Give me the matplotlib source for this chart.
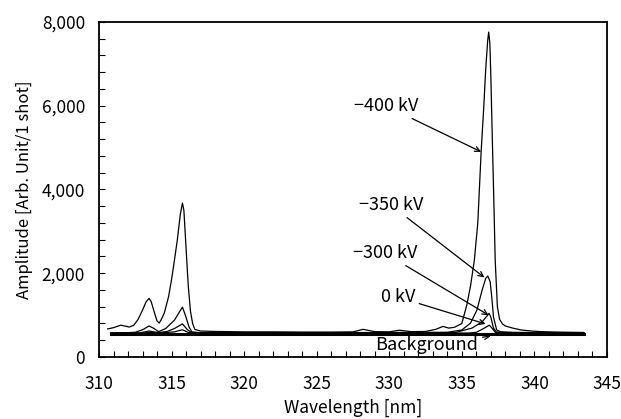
import matplotlib
matplotlib.use('Agg')
import matplotlib.pyplot as plt
import matplotlib.ticker as ticker

plt.rcParams['font.family'] = ['Noto Sans CJK JP', 'DejaVu Sans']

# spectra (wavelength nm, amplitude)
wl_400 = [310.6, 311.0, 311.5, 312.1, 312.4, 312.7, 313.0, 313.25, 313.45, 313.6,
          313.8, 314.0, 314.15, 314.3, 314.5, 314.8, 315.0, 315.2, 315.4, 315.6,
          315.75, 315.85, 316.0, 316.15, 316.3, 316.45, 316.6, 317.0, 318.0, 320.0,
          322.0, 324.0, 326.0, 327.5, 328.2, 329.0, 330.0, 330.7, 331.5, 332.5,
          333.2, 333.7, 334.1, 334.5, 335.0, 335.35, 335.6, 335.86, 336.1, 336.33,
          336.5, 336.65, 336.78, 336.85, 336.93, 337.0, 337.07, 337.2, 337.3, 337.45,
          337.6, 337.8, 338.0, 338.5, 339.1, 339.8, 340.5, 341.5, 342.5, 343.4]
amp_400 = [670, 700, 760, 715, 760, 900, 1120, 1320, 1400, 1320,
           1080, 860, 810, 900, 1050, 1450, 1850, 2315, 2800, 3400,
           3675, 3500, 2600, 1700, 1100, 800, 660, 620, 610, 600,
           600, 595, 595, 600, 660, 605, 600, 640, 605, 610,
           660, 730, 690, 710, 800, 1250, 1700, 2300, 3200, 4900,
           5900, 6900, 7550, 7760, 7500, 6700, 5650, 3800, 2300, 1200,
           900, 790, 740, 690, 645, 620, 605, 595, 590, 585]

wl_350 = [310.8, 312.0, 312.5, 313.0, 313.45, 313.8, 314.1, 314.6, 315.2, 315.5,
          315.75, 315.95, 316.2, 316.4, 317.0, 325.0, 334.0, 335.0, 335.6, 336.04,
          336.4, 336.65, 336.79, 336.95, 337.06, 337.18, 337.4, 337.7, 338.5, 343.4]
amp_350 = [575, 580, 590, 650, 740, 680, 605, 680, 880, 1050,
           1190, 1000, 720, 600, 580, 580, 590, 645, 810, 1120,
           1600, 1880, 1933, 1800, 1440, 960, 645, 600, 585, 580]

wl_300 = [310.8, 312.8, 313.45, 314.1, 314.7, 315.2, 315.75, 316.1, 316.4, 317.0,
          334.5, 335.7, 336.4, 336.88, 337.0, 337.18, 337.4, 338.0, 343.4]
amp_300 = [570, 575, 620, 580, 610, 680, 790, 650, 580, 575,
           580, 690, 840, 1043, 950, 690, 590, 580, 575]

wl_0 = [310.8, 313.0, 313.45, 314.0, 315.2, 315.75, 316.2, 317.0, 335.5, 336.0,
        336.5, 336.9, 337.1, 337.3, 343.4]
amp_0 = [565, 570, 590, 570, 600, 650, 580, 570, 572, 590,
         680, 760, 680, 590, 570]

wl_bg = [310.8, 320.0, 330.0, 343.4]
amp_bg = [558, 558, 558, 558]

# arrow labels: (text, target wavelength, target amplitude, text wavelength, text amplitude)
labels = [
    ('\u2212400 kV', 336.33, 4900, 329.8, 5990),
    ('\u2212350 kV', 336.55, 1900, 330.1, 3630),
    ('\u2212300 kV', 336.84, 1000, 329.7, 2480),
    ('0 kV', 336.63, 790, 330.6, 1430),
    ('Background', 337.0, 500, 332.6, 290),
]

fig = plt.figure(figsize=(6.21, 4.19), dpi=100)
ax = fig.add_axes([0.1594, 0.148, 0.818, 0.7995])

for w, a in [(wl_400, amp_400), (wl_350, amp_350), (wl_300, amp_300), (wl_0, amp_0)]:
    ax.plot(w, a, color='black', lw=0.9)
ax.plot(wl_bg, amp_bg, color='black', lw=2.2)

for text, tx, ty, lx, ly in labels:
    ax.annotate(text, xy=(tx, ty), xytext=(lx, ly), ha='center', va='center',
                fontsize=13,
                arrowprops=dict(arrowstyle='->', color='black', lw=0.9,
                                shrinkA=1, shrinkB=0, mutation_scale=9))

ax.set_xlim(310, 345)
ax.set_ylim(0, 8000)
ax.xaxis.set_major_locator(ticker.MultipleLocator(5))
ax.xaxis.set_minor_locator(ticker.MultipleLocator(1))
ax.yaxis.set_major_locator(ticker.MultipleLocator(2000))
ax.yaxis.set_minor_locator(ticker.MultipleLocator(400))
ax.yaxis.set_major_formatter(ticker.FuncFormatter(lambda v, p: '{:,.0f}'.format(v)))
ax.tick_params(which='both', direction='in', length=4, width=0.8)
ax.tick_params(axis='x', which='both', pad=13, labelsize=12.5)
ax.tick_params(axis='y', which='both', pad=10, labelsize=12.5)
for s in ax.spines.values():
    s.set_linewidth(1.3)

ax.set_xlabel('Wavelength [nm]', fontsize=12.5, labelpad=4)
ax.set_ylabel('Amplitude [Arb. Unit/1 shot]', fontsize=12, labelpad=6)

plt.savefig('out.png', dpi=100)
